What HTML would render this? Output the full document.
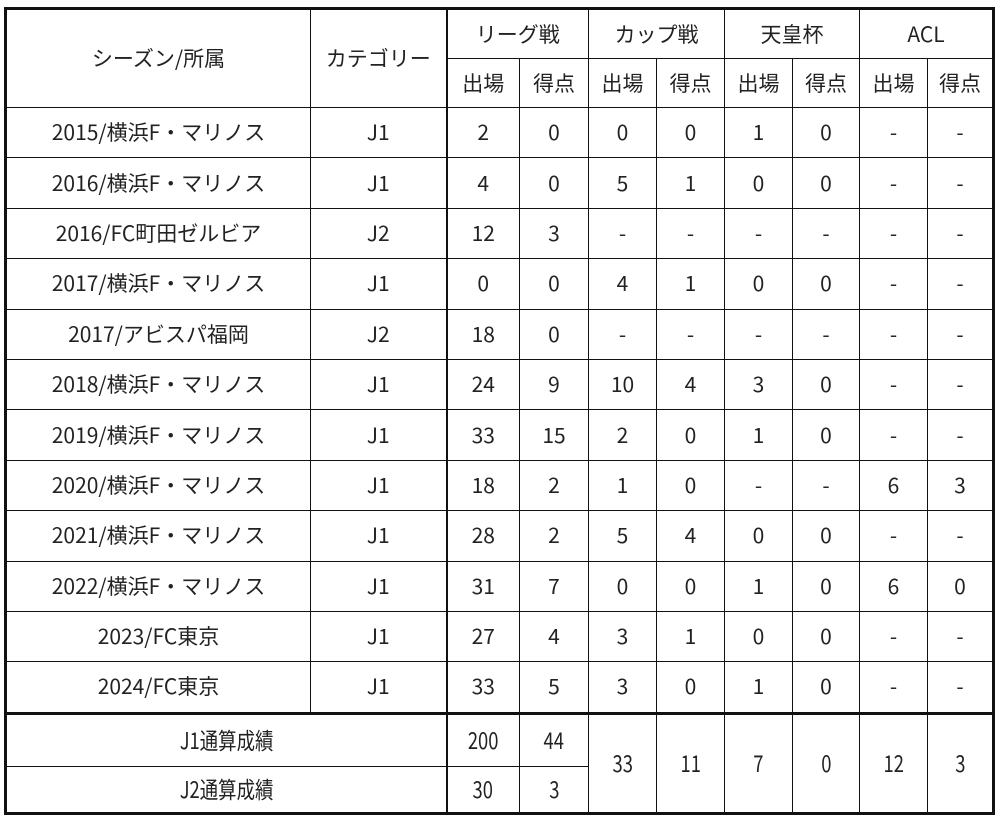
<!DOCTYPE html>
<html><head><meta charset="utf-8"><style>
body{margin:0;background:#fff;width:1000px;height:822px;overflow:hidden}
table{position:absolute;left:4px;top:7px;border-collapse:collapse;table-layout:fixed;border:3px solid #111;
font-family:"Noto Sans CJK JP","Liberation Sans",sans-serif;font-size:21px;color:#222;line-height:1}
td{border:1.8px solid #111;text-align:center;vertical-align:middle;padding:0;height:49.4px;white-space:nowrap}
tr.h td{height:48px}
.tk{border-right:2.5px solid #111}
tr.s1 td{border-top:3.5px solid #111;height:51px}
tr.s2 td{height:45px}
.c{display:inline-block;font-size:23px;transform:scaleX(0.8)}
</style></head><body>
<table>
<colgroup><col style="width:305px"><col style="width:136px"><col style="width:73px"><col style="width:69px"><col style="width:68px"><col style="width:68px"><col style="width:68px"><col style="width:67px"><col style="width:68px"><col style="width:66px"></colgroup>
<tr class="h"><td rowspan="2">シーズン/所属</td><td rowspan="2" class="tk">カテゴリー</td><td colspan="2">リーグ戦</td><td colspan="2">カップ戦</td><td colspan="2">天皇杯</td><td colspan="2">ACL</td></tr>
<tr class="h"><td>出場</td><td>得点</td><td>出場</td><td>得点</td><td>出場</td><td>得点</td><td>出場</td><td>得点</td></tr>
<tr><td>2015/横浜F・マリノス</td><td class="tk">J1</td><td>2</td><td>0</td><td>0</td><td>0</td><td>1</td><td>0</td><td>-</td><td>-</td></tr>
<tr><td>2016/横浜F・マリノス</td><td class="tk">J1</td><td>4</td><td>0</td><td>5</td><td>1</td><td>0</td><td>0</td><td>-</td><td>-</td></tr>
<tr><td>2016/FC町田ゼルビア</td><td class="tk">J2</td><td>12</td><td>3</td><td>-</td><td>-</td><td>-</td><td>-</td><td>-</td><td>-</td></tr>
<tr><td>2017/横浜F・マリノス</td><td class="tk">J1</td><td>0</td><td>0</td><td>4</td><td>1</td><td>0</td><td>0</td><td>-</td><td>-</td></tr>
<tr><td>2017/アビスパ福岡</td><td class="tk">J2</td><td>18</td><td>0</td><td>-</td><td>-</td><td>-</td><td>-</td><td>-</td><td>-</td></tr>
<tr><td>2018/横浜F・マリノス</td><td class="tk">J1</td><td>24</td><td>9</td><td>10</td><td>4</td><td>3</td><td>0</td><td>-</td><td>-</td></tr>
<tr><td>2019/横浜F・マリノス</td><td class="tk">J1</td><td>33</td><td>15</td><td>2</td><td>0</td><td>1</td><td>0</td><td>-</td><td>-</td></tr>
<tr><td>2020/横浜F・マリノス</td><td class="tk">J1</td><td>18</td><td>2</td><td>1</td><td>0</td><td>-</td><td>-</td><td>6</td><td>3</td></tr>
<tr><td>2021/横浜F・マリノス</td><td class="tk">J1</td><td>28</td><td>2</td><td>5</td><td>4</td><td>0</td><td>0</td><td>-</td><td>-</td></tr>
<tr><td>2022/横浜F・マリノス</td><td class="tk">J1</td><td>31</td><td>7</td><td>0</td><td>0</td><td>1</td><td>0</td><td>6</td><td>0</td></tr>
<tr><td>2023/FC東京</td><td class="tk">J1</td><td>27</td><td>4</td><td>3</td><td>1</td><td>0</td><td>0</td><td>-</td><td>-</td></tr>
<tr><td>2024/FC東京</td><td class="tk">J1</td><td>33</td><td>5</td><td>3</td><td>0</td><td>1</td><td>0</td><td>-</td><td>-</td></tr>
<tr class="s1"><td colspan="2" class="tk"><span class="c">J1通算成績</span></td><td><span class="c">200</span></td><td><span class="c">44</span></td><td rowspan="2"><span class="c">33</span></td><td rowspan="2"><span class="c">11</span></td><td rowspan="2"><span class="c">7</span></td><td rowspan="2"><span class="c">0</span></td><td rowspan="2"><span class="c">12</span></td><td rowspan="2"><span class="c">3</span></td></tr>
<tr class="s2"><td colspan="2" class="tk"><span class="c">J2通算成績</span></td><td><span class="c">30</span></td><td><span class="c">3</span></td></tr>
</table>
</body></html>
